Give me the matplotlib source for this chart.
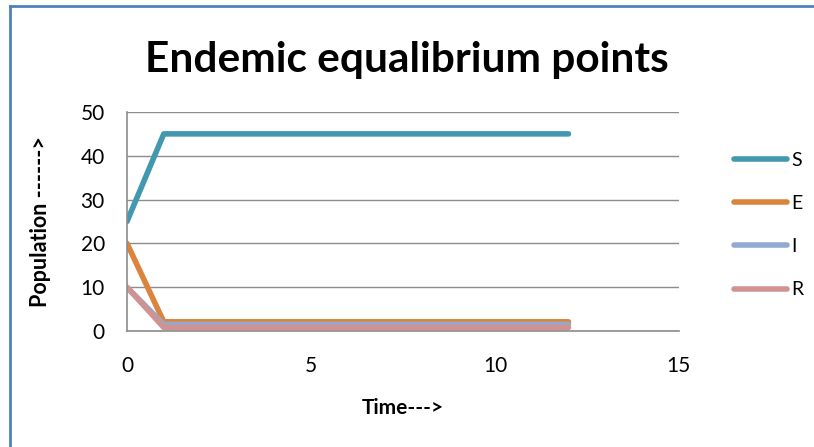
import matplotlib.pyplot as plt
from matplotlib.lines import Line2D

plt.rcParams['font.family'] = ['Lato', 'DejaVu Sans']

time = list(range(0, 13))
S = [25] + [45] * 12
E = [20] + [2.1] * 12
I = [10] + [1.5] * 12
R = [10] + [0.8] * 12

series = [('S', S, '#4198AF'), ('E', E, '#DB843D'),
          ('I', I, '#93A9CF'), ('R', R, '#D19392')]

fig = plt.figure(figsize=(8.14, 4.47), dpi=100)
ax = fig.add_axes([0.156, 0.2595, 0.678, 0.49])

for name, vals, col in series:
    ax.plot(time, vals, color=col, lw=4, label=name, solid_capstyle='round')

ax.set_xlim(0, 15)
ax.set_ylim(0, 50)
ax.set_xticks([0, 5, 10, 15])
ax.set_yticks([0, 10, 20, 30, 40, 50])
ax.yaxis.grid(True, color='#8c8c8c', lw=1)
ax.set_axisbelow(True)
for s in ['top', 'right']:
    ax.spines[s].set_visible(False)
for s in ['left', 'bottom']:
    ax.spines[s].set_color('#8c8c8c')
    ax.spines[s].set_linewidth(1.2)
ax.tick_params(length=0, labelsize=15)
ax.tick_params(axis='x', pad=18)
ax.tick_params(axis='y', pad=16)

ax.set_xlabel('Time--->', fontsize=15, fontweight='bold', labelpad=16)
ax.set_ylabel('Population ------>', fontsize=15.5, fontweight='bold', labelpad=21)
fig.text(0.5, 0.866, 'Endemic equalibrium points', fontsize=30.5,
         fontweight='bold', ha='center', va='center')

ax.legend(loc='center left', bbox_to_anchor=(1.1, 0.484), frameon=False,
          fontsize=14, handlelength=2.7, handletextpad=0.25, labelspacing=1.35,
          borderpad=0, borderaxespad=0)

# chart frame
fig.add_artist(Line2D([10/814, 10/814], [0, 1 - 6/447], color='#4F81BD', lw=2,
                      transform=fig.transFigure))
fig.add_artist(Line2D([10/814, 1], [1 - 6/447, 1 - 6/447], color='#4F81BD', lw=2,
                      transform=fig.transFigure))

fig.savefig('out.png', dpi=100)
